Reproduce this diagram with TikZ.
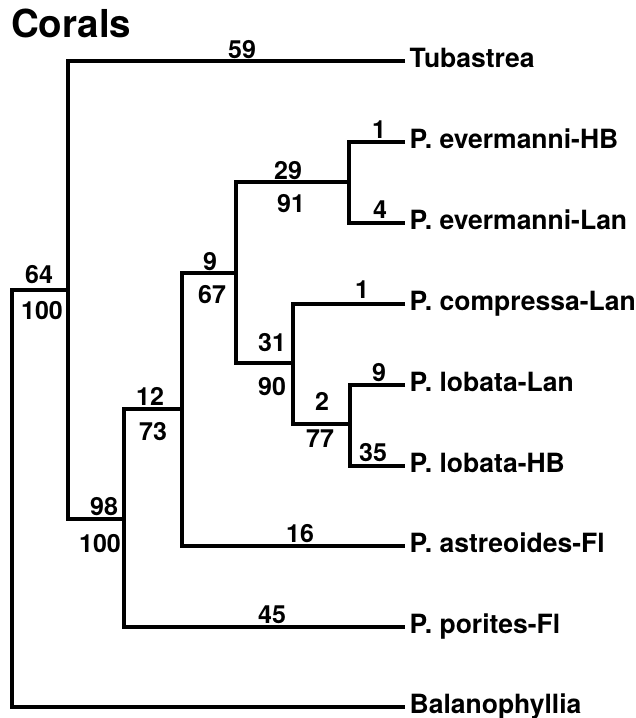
\documentclass[tikz,border=0pt]{standalone}
\usepackage{fontspec}
\setmainfont{TeX Gyre Heros}
\begin{document}
\begin{tikzpicture}[x=1pt,y=-1pt,
  branch/.style={line width=4.5pt,line join=miter},
  leaf/.style={anchor=west,inner xsep=4.5pt,inner ysep=0pt,text height=13pt,text depth=0pt,
    font=\fontsize{26.5}{29}\selectfont\bfseries},
  num/.style={anchor=base,inner sep=0pt,font=\fontsize{25}{28}\selectfont\bfseries}]
\useasboundingbox[fill=white] (0,0) rectangle (636,718);
\node[anchor=base west,inner sep=0pt,font=\fontsize{38.5}{42}\selectfont\bfseries] (title) at (11,37) {Corals};
% leaves
\node[leaf] (tub)    at (405,61)  {Tubastrea};
\node[leaf] (evhb)   at (405,142) {P. evermanni-HB};
\node[leaf] (evlan)  at (405,223) {P. evermanni-Lan};
\node[leaf] (comp)   at (405,304) {P. compressa-Lan};
\node[leaf] (loblan) at (405,385) {P. lobata-Lan};
\node[leaf] (lobhb)  at (405,466) {P. lobata-HB};
\node[leaf] (ast)    at (405,546) {P. astreoides-Fl};
\node[leaf] (por)    at (405,627) {P. porites-Fl};
\node[leaf] (bal)    at (405,707) {Balanophyllia};
% internal nodes
\coordinate (R) at (12,500);
\coordinate (A) at (68,290);
\coordinate (B) at (124,519);
\coordinate (C) at (182,409);
\coordinate (D) at (236,273);
\coordinate (E) at (349,182);
\coordinate (F) at (293,363);
\coordinate (G) at (350,424);
% branches
\draw[branch] (A) -| (R) |- (bal.west);
\draw[branch] (tub.west) -| (A) |- (B);
\draw[branch] (C) -| (B) |- (por.west);
\draw[branch] (D) -| (C) |- (ast.west);
\draw[branch] (E) -| (D) |- (F);
\draw[branch] (evhb.west) -| (E) |- (evlan.west);
\draw[branch] (comp.west) -| (F) |- (G);
\draw[branch] (loblan.west) -| (G) |- (lobhb.west);
% branch labels
\node[num] (l59)  at (242,58) {59};
\node[num] (l64)  at (39,283) {64};
\node[num] (l100a) at (42,319) {100};
\node[num] (l29)  at (288,179) {29};
\node[num] (l91)  at (291,212) {91};
\node[num] (l9a)  at (210,270) {9};
\node[num] (l67)  at (212,303) {67};
\node[num] (l31)  at (272,351) {31};
\node[num] (l90)  at (272,395) {90};
\node[num] (l2)   at (322,410) {2};
\node[num] (l77)  at (320,447) {77};
\node[num] (l12)  at (150,405) {12};
\node[num] (l73)  at (153,440) {73};
\node[num] (l98)  at (104,515) {98};
\node[num] (l100b) at (100,552) {100};
\node[num] (l16)  at (300,542) {16};
\node[num] (l45)  at (272,623) {45};
\node[num] (l1a)  at (379,138) {1};
\node[num] (l4)   at (380,218) {4};
\node[num] (l1b)  at (362,298) {1};
\node[num] (l9b)  at (379,381) {9};
\node[num] (l35)  at (373,461) {35};
\end{tikzpicture}
\end{document}
